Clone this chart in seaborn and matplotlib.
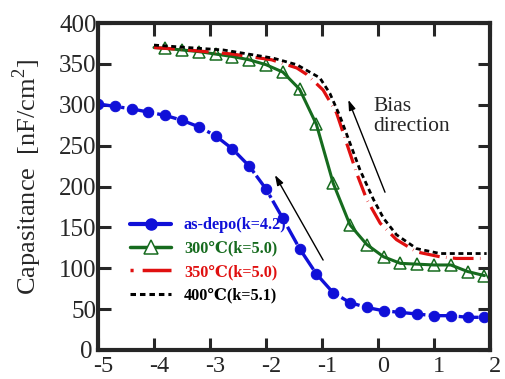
import numpy as np
import pandas as pd
import matplotlib
matplotlib.use("Agg")
import matplotlib.pyplot as plt
import matplotlib.transforms as mtransforms
import seaborn as sns
from matplotlib.lines import Line2D

# ---- data ----
x_asdepo = [-5.0, -4.7, -4.4, -4.1, -3.8, -3.5, -3.2, -2.9, -2.6, -2.3, -2.0, -1.7,
            -1.4, -1.1, -0.8, -0.5, -0.2, 0.1, 0.4, 0.7, 1.0, 1.3, 1.6, 1.9]
y_asdepo = [301, 298, 295, 291, 287, 281, 273, 262, 246, 225, 197, 161,
            124, 93, 70, 58, 52, 48, 46, 44, 42, 42, 40, 40]

x_300 = [-4.0, -3.8, -3.5, -3.2, -2.9, -2.6, -2.3, -2.0, -1.7, -1.4, -1.1, -0.8,
         -0.5, -0.2, 0.1, 0.4, 0.7, 1.0, 1.3, 1.6, 1.9]
y_300 = [370, 369, 367, 365, 362, 359, 355, 349, 340, 319, 276, 204,
         153, 129, 114, 106, 105, 104, 104, 96, 91]

x_350 = [-4.0, -3.4, -2.6, -1.9, -1.45, -1.27, -0.98, -0.74, -0.56, -0.38, -0.2,
         0.04, 0.33, 0.69, 1.11, 1.4, 1.94]
y_350 = [370, 367, 362, 355, 345, 337, 318, 290, 253, 216, 184,
         155, 135, 120, 114, 112, 112]

x_400 = [-4.0, -3.4, -2.76, -1.87, -1.45, -1.04, -0.86, -0.68, -0.5, -0.32, -0.08,
         0.1, 0.33, 0.69, 1.11, 1.5, 1.94]
y_400 = [373, 370, 367, 357, 349, 333, 314, 286, 253, 220, 184,
         161, 141, 124, 118, 118, 118]

labels = ["as-depo(k=4.2)", "300\u2103(k=5.0)", "350\u2103(k=5.0)", "400\u2103(k=5.1)"]
x_ticks = [-5, -4, -3, -2, -1, 0, 1, 2]
y_ticks = [0, 50, 100, 150, 200, 250, 300, 350, 400]

# ---- style ----
sns.set_style("ticks")
plt.rcParams["font.family"] = ["Liberation Serif", "DejaVu Serif"]
plt.rcParams["mathtext.fontset"] = "custom"
plt.rcParams["mathtext.rm"] = "Liberation Serif"

c_blue = "#1010d8"
c_green = "#166b1e"
c_red = "#e01010"
c_black = "#000000"

fig = plt.figure(figsize=(5.05, 3.79), dpi=100)
ax = fig.add_axes([98 / 505, 1 - 350 / 379, (490 - 98) / 505, (350 - 23) / 379])

sns.lineplot(x=x_asdepo, y=y_asdepo, ax=ax, color=c_blue, lw=2.4,
             linestyle=(0, (6, 1.0, 1.0, 1.0)), marker="o", markersize=7.5,
             markeredgecolor=c_blue, markerfacecolor=c_blue, sort=False)
sns.lineplot(x=x_300, y=y_300, ax=ax, color=c_green, lw=2.2, linestyle="-",
             marker="^", markersize=9, markerfacecolor="none",
             markeredgecolor=c_green, markeredgewidth=1.1,
             markevery=list(range(1, len(x_300))), sort=False)
sns.lineplot(x=x_350, y=y_350, ax=ax, color=c_red, lw=2.3,
             linestyle=(0, (6.5, 2.0, 0.15, 2.0)), sort=False)
sns.lineplot(x=x_400, y=y_400, ax=ax, color=c_black, lw=2.0,
             linestyle=(0, (1.8, 1.3)), sort=False)

ax.set_xlim(-5, 2)
ax.set_ylim(0, 400)
ax.set_xticks(x_ticks)
ax.set_yticks(y_ticks)
ax.set_xticklabels([str(t) for t in x_ticks])
ax.set_yticklabels([str(t) for t in y_ticks])
ax.tick_params(direction="in", length=9, width=2.2, labelsize=18,
               top=True, right=True)
ax.tick_params(axis="x", pad=4.5, labelsize=17.5)
ax.tick_params(axis="y", pad=1)
shift = mtransforms.ScaledTranslation(5 / 100, 0, fig.dpi_scale_trans)
for lab in ax.get_xticklabels():
    lab.set_transform(lab.get_transform() + shift)
# nudge the "0" label slightly left so it does not collide with "-5"
zero_lab = ax.get_yticklabels()[0]
zero_lab.set_transform(zero_lab.get_transform() +
                       mtransforms.ScaledTranslation(-4 / 100, 0, fig.dpi_scale_trans))
for s in ax.spines.values():
    s.set_linewidth(3)
ax.set_xlabel("")
ax.set_ylabel("Capasitance  [nF/cm$^{2}$]", fontsize=19)
ax.yaxis.set_label_coords(-0.137, 0.53)

# arrows
ax.annotate("", xy=(-1.84, 214), xytext=(-0.98, 110),
            arrowprops=dict(arrowstyle="-|>,head_length=0.6,head_width=0.2",
                            lw=1.0, color="k", shrinkA=0, shrinkB=0))
ax.annotate("", xy=(-0.53, 306), xytext=(0.125, 193),
            arrowprops=dict(arrowstyle="-|>,head_length=0.6,head_width=0.2",
                            lw=1.0, color="k", shrinkA=0, shrinkB=0))
ax.text(-0.09, 310, "Bias\ndirection", fontsize=15.5, va="top", ha="left",
        linespacing=1.1)

handles = [
    Line2D([], [], color=c_blue, lw=3, marker="o", markersize=8),
    Line2D([], [], color=c_green, lw=2.5, marker="^", markersize=10,
           markerfacecolor="white", markeredgewidth=1.1),
    Line2D([], [], color=c_red, lw=2.5, linestyle=(0, (0.9, 2.6, 9, 2))),
    Line2D([], [], color=c_black, lw=2.2, linestyle=(0, (1.8, 1.3))),
]
leg = ax.legend(handles, labels, loc="upper left", bbox_to_anchor=(0.045, 0.45),
                frameon=False, handlelength=2.5, handletextpad=0.8,
                labelspacing=0.45, prop={"weight": "bold", "size": 11.7})
for t, c in zip(leg.get_texts(), [c_blue, c_green, c_red, c_black]):
    t.set_color(c)

fig.savefig("out.png", dpi=100)
